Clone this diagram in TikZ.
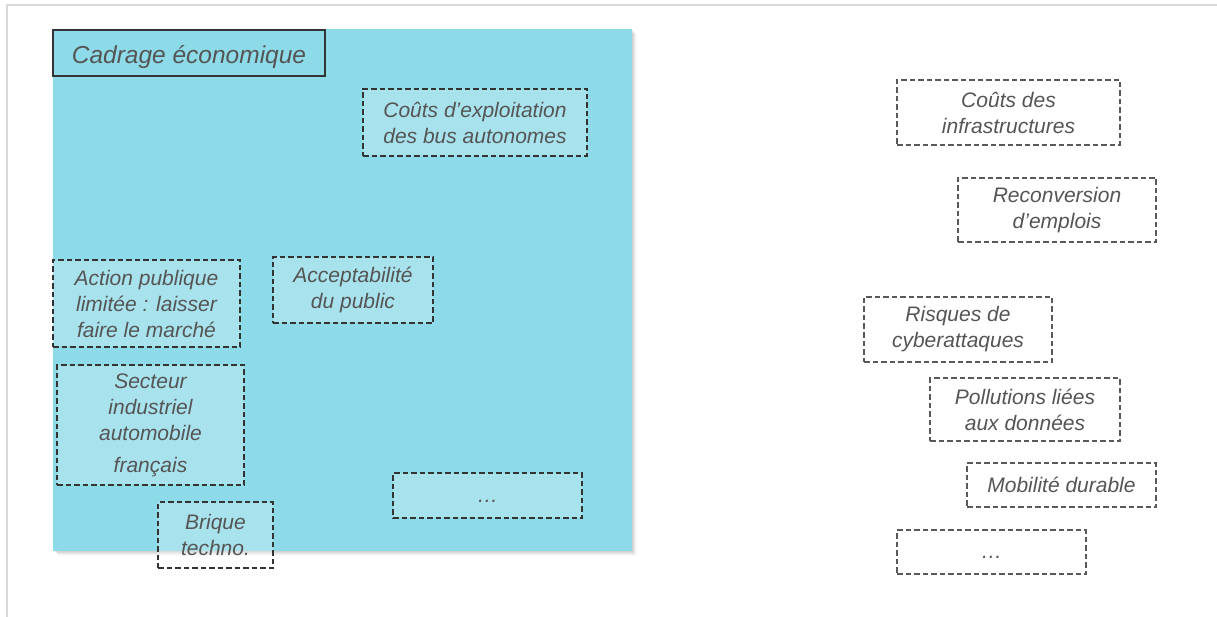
\documentclass[tikz,border=0pt]{standalone}
\usepackage{fontspec}
\setmainfont{Liberation Sans}
\definecolor{cyanbg}{HTML}{8DDAE8}
\definecolor{txtgray}{HTML}{555555}
\definecolor{framegray}{HTML}{D9D9D9}
\begin{document}
\begin{tikzpicture}[x=1pt,y=-1pt,
  every node/.style={font=\fontsize{21}{26}\selectfont\itshape, text=txtgray, align=center, inner sep=0pt},
  inbox/.style={draw=black!80, line width=1.1pt, dash pattern=on 5.5pt off 3pt, fill=white, fill opacity=0.24, text opacity=1, draw opacity=1, rectangle},
  outbox/.style={draw=black!65, line width=1.1pt, dash pattern=on 5.5pt off 3pt, rectangle},
  titlebox/.style={draw=black!80, line width=1.3pt, fill=cyanbg, font=\fontsize{24.5}{28}\selectfont\itshape},
  frameline/.style={draw=framegray, line width=2pt}
]
\useasboundingbox (0,0) rectangle (1217,617);
\fill[white] (0,0) rectangle (1217,617);
% outer frame
\coordinate (ftl) at (7,5);
\coordinate (ftr) at (1217,5);
\coordinate (fbl) at (7,617);
\draw[frameline] (ftr) -- (ftl) -- (fbl);
% shadow
\foreach \d/\o in {1/0.05,2/0.05,3/0.04,4/0.03,5/0.02}{
  \fill[black, opacity=\o] (53+\d,29+\d) rectangle (632+\d,551+\d);
}
% cyan panel
\fill[cyanbg] (53,29) rectangle (632,551);
% title
\node[titlebox, minimum width=272pt, minimum height=46pt, text depth=0pt] (title) at (189,53) {\raisebox{-2pt}{Cadrage économique}};
% inner boxes
\node[inbox, minimum width=224pt, minimum height=67pt] (c1) at (475,122.5) {Coûts d’exploitation\\des bus autonomes};
\node[inbox, minimum width=187pt, minimum height=87pt] (a1) at (146.5,303.5) {Action publique\\limitée : laisser\\faire le marché};
\node[inbox, minimum width=160pt, minimum height=66pt] (a2) at (353,290) {Acceptabilité\\du public};
\node[inbox, minimum width=187pt, minimum height=120pt] (s1) at (150.5,425) {Secteur\\industriel\\automobile\\[6pt]français};
\node[inbox, minimum width=115pt, minimum height=66pt] (b1) at (215.5,535) {Brique\\techno.};
\node[inbox, minimum width=189pt, minimum height=45pt] (d1) at (487.5,495.5) {\smash{\raisebox{-7pt}{…}}};
% right boxes
\node[outbox, minimum width=223pt, minimum height=65pt] (r1) at (1008.5,112.5) {Coûts des\\infrastructures};
\node[outbox, minimum width=198pt, minimum height=64pt] (r2) at (1057,210) {Reconversion\\d’emplois};
\node[outbox, minimum width=188pt, minimum height=65pt] (r3) at (958,329.5) {Risques de\\cyberattaques};
\node[outbox, minimum width=190pt, minimum height=63pt] (r4) at (1025,409.5) {Pollutions liées\\aux données};
\node[outbox, minimum width=189pt, minimum height=44pt] (r5) at (1061.5,485) {Mobilité durable};
\node[outbox, minimum width=189pt, minimum height=44pt] (r6) at (991.5,552) {\smash{\raisebox{-6pt}{…}}};
\end{tikzpicture}
\end{document}
